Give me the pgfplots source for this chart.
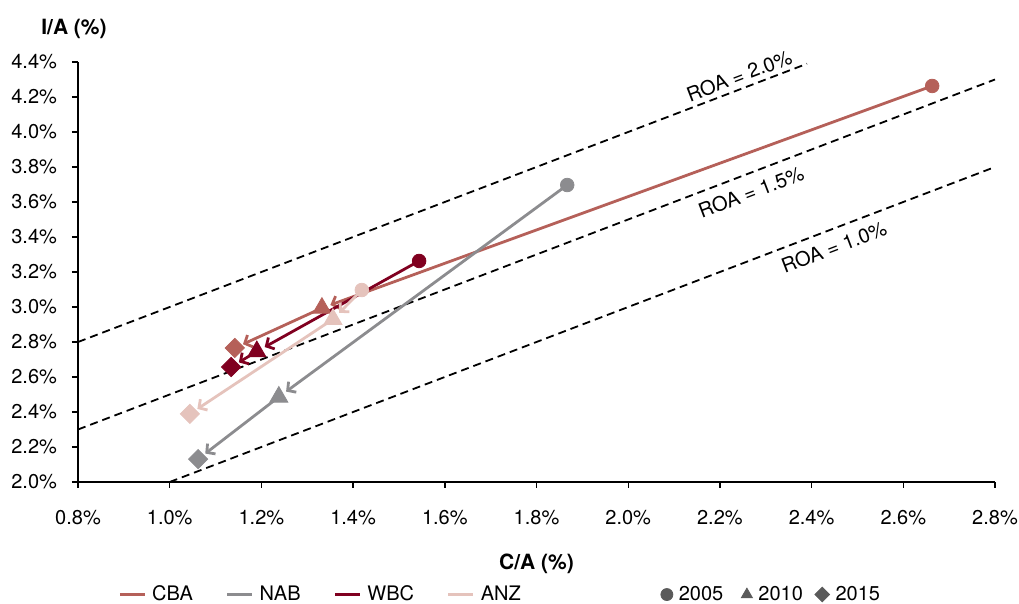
\documentclass[border=0pt]{standalone}
\usepackage{fontspec}
\setmainfont{TeX Gyre Heros}
\usepackage{pgfplots}
\pgfplotsset{compat=1.18}
\usetikzlibrary{arrows.meta}

\definecolor{cbacol}{RGB}{181,96,89}
\definecolor{nabcol}{RGB}{140,140,143}
\definecolor{wbccol}{RGB}{128,0,32}
\definecolor{anzcol}{RGB}{229,195,188}
\definecolor{mkgray}{RGB}{90,90,90}

\pgfplotsset{
  bank/.style={line width=1.4pt, -{Straight Barb[length=3pt,width=6.5pt]}, shorten >=4.5pt, forget plot},
  yr05/.style={only marks, mark=*, mark size=3.4pt, forget plot},
  yr10/.style={only marks, mark=triangle*, mark size=5.2pt, forget plot},
  yr15/.style={only marks, mark=square*, mark size=3.4pt, mark options={rotate=45}, forget plot},
  roa/.style={black, line width=0.9pt, dash pattern=on 4pt off 2.5pt, forget plot},
  lineleg/.style={legend image code/.code={\draw[##1, line width=1.4pt] (0pt,0pt) -- (12.5pt,0pt);}},
  markleg/.style={legend image code/.code={\draw[##1] plot coordinates {(0pt,0pt)};}},
}
\newcommand{\gap}[1]{\rule{#1}{0pt}}

\begin{document}
\begin{tikzpicture}
\begin{axis}[
  width=458.5pt, height=210pt, scale only axis,
  xmin=0.8, xmax=2.8, ymin=2, ymax=4.4,
  axis x line*=bottom, axis y line*=left,
  axis line style={line width=0.7pt},
  xtick={0.8,1.0,1.2,1.4,1.6,1.8,2.0,2.2,2.4,2.6,2.8},
  ytick={2.0,2.2,2.4,2.6,2.8,3.0,3.2,3.4,3.6,3.8,4.0,4.2,4.4},
  tick align=outside, major tick length=3pt,
  tick style={black, line width=0.7pt},
  xticklabel={\pgfmathprintnumber[fixed,fixed zerofill,precision=1]{\tick}\%},
  yticklabel={\pgfmathprintnumber[fixed,fixed zerofill,precision=1]{\tick}\%},
  /pgf/number format/assume math mode=true,
  ticklabel style={font=\fontsize{10}{12}\selectfont},
  xticklabel style={yshift=-7.5pt},
  yticklabel style={xshift=-4pt},
  clip=false,
  legend columns=-1,
  legend cell align=left,
  legend style={draw=none, fill=none, at={(0.0436,-0.268)}, anchor=west,
    inner sep=0pt, nodes={inner sep=0pt}, font=\fontsize{10}{12}\selectfont,
    /tikz/every odd column/.append style={column sep=3pt}},
]
\addlegendimage{lineleg, cbacol}\addlegendentry{CBA\gap{16.5pt}}
\addlegendimage{lineleg, nabcol}\addlegendentry{NAB\gap{16.5pt}}
\addlegendimage{lineleg, wbccol}\addlegendentry{WBC\gap{16.5pt}}
\addlegendimage{lineleg, anzcol}\addlegendentry{ANZ\gap{70pt}}
\addlegendimage{markleg, only marks, mark=*, mark size=3pt, mkgray}\addlegendentry{2005\gap{9pt}}
\addlegendimage{markleg, only marks, mark=triangle*, mark size=3.2pt, mkgray}\addlegendentry{2010\gap{6pt}}
\addlegendimage{markleg, only marks, mark=square*, mark size=2.6pt, mark options={rotate=45}, mkgray}\addlegendentry{2015}

% ROA iso-lines
\addplot[roa] coordinates {(0.8,2.8) (2.39,4.39)};
\addplot[roa] coordinates {(0.8,2.3) (2.8,4.3)};
\addplot[roa] coordinates {(1.0,2.0) (2.8,3.8)};
\node[rotate=20.89, font=\fontsize{10}{12}\selectfont] at (axis cs:2.242,4.322) {ROA = 2.0\%};
\node[rotate=20.89, font=\fontsize{10}{12}\selectfont] at (axis cs:2.268,3.657) {ROA = 1.5\%};
\node[rotate=20.89, font=\fontsize{10}{12}\selectfont] at (axis cs:2.449,3.343) {ROA = 1.0\%};

% CBA
\addplot[bank, cbacol] coordinates {(2.663,4.263) (1.332,2.994)};
\addplot[bank, cbacol] coordinates {(1.332,2.994) (1.142,2.766)};
% NAB
\addplot[bank, nabcol] coordinates {(1.867,3.697) (1.238,2.486)};
\addplot[bank, nabcol] coordinates {(1.238,2.486) (1.062,2.131)};
% WBC
\addplot[bank, wbccol] coordinates {(1.544,3.263) (1.190,2.746)};
\addplot[bank, wbccol] coordinates {(1.190,2.746) (1.134,2.657)};
% ANZ
\addplot[bank, anzcol] coordinates {(1.419,3.097) (1.356,2.930)};
\addplot[bank, anzcol] coordinates {(1.356,2.930) (1.044,2.389)};

\addplot[yr05, cbacol] coordinates {(2.663,4.263)};
\addplot[yr10, cbacol] coordinates {(1.332,2.994)};
\addplot[yr15, cbacol] coordinates {(1.142,2.766)};
\addplot[yr05, nabcol] coordinates {(1.867,3.697)};
\addplot[yr10, nabcol] coordinates {(1.238,2.486)};
\addplot[yr15, nabcol] coordinates {(1.062,2.131)};
\addplot[yr05, anzcol] coordinates {(1.419,3.097)};
\addplot[yr10, anzcol] coordinates {(1.356,2.930)};
\addplot[yr15, anzcol] coordinates {(1.044,2.389)};
\addplot[yr05, wbccol] coordinates {(1.544,3.263)};
\addplot[yr10, wbccol] coordinates {(1.190,2.746)};
\addplot[yr15, wbccol] coordinates {(1.134,2.657)};

\node[font=\bfseries\fontsize{10.5}{12}\selectfont, xshift=-2pt, yshift=16.5pt] at (rel axis cs:0,1) {I/A (\%)};
\node[font=\bfseries\fontsize{10.5}{12}\selectfont, yshift=-41pt] at (rel axis cs:0.5,0) {C/A (\%)};
\end{axis}
\pgfresetboundingbox
\path (current axis.south west) ++(-39pt,-61pt) rectangle ([shift={(12pt,31pt)}]current axis.north east);
\end{tikzpicture}
\end{document}
